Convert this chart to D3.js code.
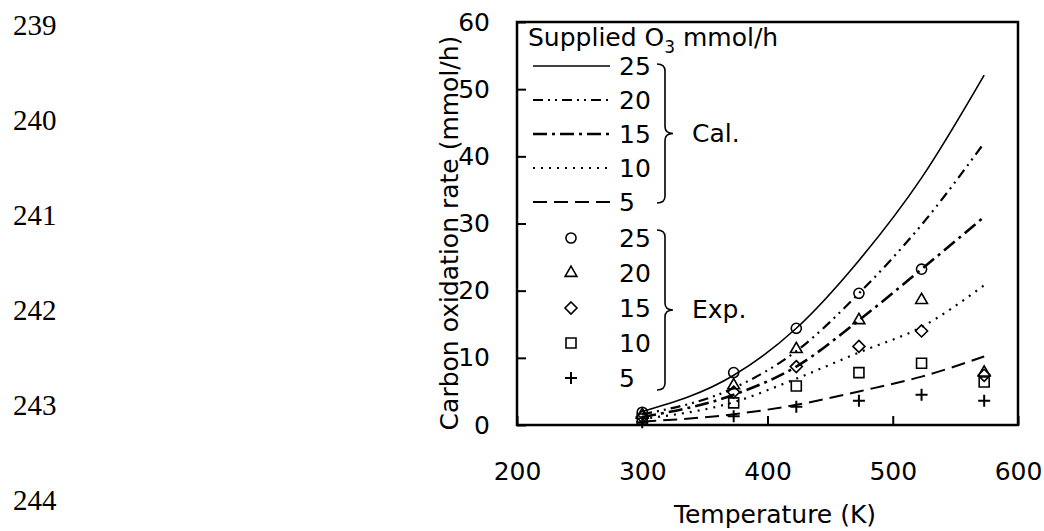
<!DOCTYPE html>
<html>
<head>
<meta charset="utf-8">
<script src="https://cdn.jsdelivr.net/npm/d3@7"></script>
<style>
  body { margin: 0; background: #fff; }
  svg { display: block; }
</style>
</head>
<body>
<div id="chart"></div>
<script>
// Temperatures (K) where the curves and experiments are given
const temps = [300, 373, 423, 473, 523, 573];
const suppliedO3 = [25, 20, 15, 10, 5];

// Calculated carbon oxidation rate (mmol/h)
const calc25 = [2.0, 7.4, 14.4, 24.5, 36.8, 52.1];
const calc20 = [1.6, 5.5, 11.0, 19.6, 29.8, 42.0];
const calc15 = [1.2, 4.5, 8.7, 15.6, 23.2, 31.0];
const calc10 = [0.9, 3.4, 6.9, 10.8, 14.6, 20.8];
const calc5 = [0.5, 1.6, 3.0, 5.0, 7.2, 10.2];

// Experimental carbon oxidation rate (mmol/h)
const exp25 = [1.9, 7.8, 14.4, 19.6, 23.2, null];
const exp20 = [1.5, 5.9, 11.3, 15.6, 18.6, 7.8];
const exp15 = [1.2, 4.9, 8.7, 11.7, 14.0, 7.4];
const exp10 = [0.9, 3.3, 5.8, 7.8, 9.2, 6.4];
const exp5 = [0.4, 1.3, 2.7, 3.6, 4.5, 3.6];

const xTicks = [200, 300, 400, 500, 600];
const yTicks = [0, 10, 20, 30, 40, 50, 60];
const lineNumbers = ['239', '240', '241', '242', '243', '244'];

const width = 1044, height = 531;
const font = "'DejaVu Sans', sans-serif";

const svg = d3.select('#chart').append('svg')
    .attr('width', width)
    .attr('height', height);

// Manuscript line numbers down the left margin
svg.selectAll('text.lineno')
    .data(lineNumbers)
    .enter().append('text')
    .attr('class', 'lineno')
    .attr('x', 13)
    .attr('y', (d, i) => 35 + i * 95)
    .style('font-family', "'Liberation Serif', 'Times New Roman', serif")
    .style('font-size', '29px')
    .text(d => d);

const x = d3.scaleLinear().domain([200, 600]).range([517, 1018]);
const y = d3.scaleLinear().domain([0, 60]).range([425, 22]);

// Axes, ticks pointing inward
const yAxis = d3.axisLeft(y).tickValues(yTicks).tickSizeInner(-9).tickSizeOuter(0).tickPadding(27);
const xAxis = d3.axisBottom(x).tickValues(xTicks).tickSizeInner(-9).tickSizeOuter(0).tickPadding(37);

const gy = svg.append('g').attr('transform', `translate(${x.range()[0]},0)`).call(yAxis);
const gx = svg.append('g').attr('transform', `translate(0,${y.range()[0]})`).call(xAxis);
[gx, gy].forEach(g => {
    g.select('.domain').remove();
    g.selectAll('line').attr('stroke', '#000').attr('stroke-width', 2);
    g.selectAll('text').attr('fill', '#000').style('font-family', font).style('font-size', '25px');
});

// Plot frame
svg.append('rect')
    .attr('x', x(200)).attr('y', y(60))
    .attr('width', x(600) - x(200)).attr('height', y(0) - y(60))
    .attr('fill', 'none').attr('stroke', '#000').attr('stroke-width', 2.5);

// Calculated curves
const calcSeries = [
    {key: 25, values: calc25, dash: null, w: 1.6},
    {key: 20, values: calc20, dash: '10,5,2,5,2,5', w: 2.2},
    {key: 15, values: calc15, dash: '14,5,3,5', w: 2.6},
    {key: 10, values: calc10, dash: '2,6', w: 2.2},
    {key: 5, values: calc5, dash: '14,7', w: 2}
];

const line = d3.line()
    .x((d, i) => x(temps[i]))
    .y(d => y(d))
    .curve(d3.curveMonotoneX);

svg.selectAll('path.calc')
    .data(calcSeries)
    .enter().append('path')
    .attr('class', 'calc')
    .attr('d', d => line(d.values))
    .attr('fill', 'none')
    .attr('stroke', '#000')
    .attr('stroke-width', d => d.w)
    .attr('stroke-dasharray', d => d.dash);

// Experimental markers
const symbolPath = {
    25: d3.symbol().type(d3.symbolCircle).size(80)(),
    20: d3.symbol().type(d3.symbolTriangle).size(60)(),
    15: 'M0,-6L6,0L0,6L-6,0Z',
    10: 'M-5,-5H5V5H-5Z',
    5: 'M-6,0H6M0,-6V6'
};

const expSeries = [
    {key: 25, values: exp25},
    {key: 20, values: exp20},
    {key: 15, values: exp15},
    {key: 10, values: exp10},
    {key: 5, values: exp5}
];

expSeries.forEach(s => {
    svg.selectAll(null)
        .data(s.values.map((v, i) => ({t: temps[i], v: v})).filter(d => d.v != null))
        .enter().append('path')
        .attr('transform', d => `translate(${x(d.t)},${y(d.v)})`)
        .attr('d', symbolPath[s.key])
        .attr('fill', 'none')
        .attr('stroke', '#000')
        .attr('stroke-width', s.key === 5 ? 2 : 1.6);
});

// Legend
const legend = svg.append('g').style('font-family', font).style('font-size', '25px');

const title = legend.append('text').attr('x', 528).attr('y', 46);
title.append('tspan').text('Supplied O');
title.append('tspan').attr('dy', 7).style('font-size', '17px').text('3');
title.append('tspan').attr('dy', -7).text(' mmol/h');

calcSeries.forEach((s, i) => {
    const yy = 66 + i * 34;
    legend.append('line')
        .attr('x1', 533).attr('x2', 610).attr('y1', yy).attr('y2', yy)
        .attr('stroke', '#000').attr('stroke-width', s.w)
        .attr('stroke-dasharray', s.dash);
    legend.append('text').attr('x', 619).attr('y', yy).attr('dy', '0.36em').text(s.key);
});

expSeries.forEach((s, i) => {
    const yy = 238 + i * 35;
    legend.append('path')
        .attr('transform', `translate(571,${yy})`)
        .attr('d', symbolPath[s.key])
        .attr('fill', 'none').attr('stroke', '#000')
        .attr('stroke-width', s.key === 5 ? 2 : 1.6);
    legend.append('text').attr('x', 619).attr('y', yy).attr('dy', '0.36em').text(s.key);
});

function bracePath(x0, y0, y1, w) {
    const xm = x0 + w / 2, ym = (y0 + y1) / 2, r = 7;
    return `M${x0},${y0} Q${xm},${y0} ${xm},${y0 + r} L${xm},${ym - r} Q${xm},${ym} ${x0 + w},${ym}` +
        ` Q${xm},${ym} ${xm},${ym + r} L${xm},${y1 - r} Q${xm},${y1} ${x0},${y1}`;
}

legend.append('path').attr('d', bracePath(657, 64, 203, 16))
    .attr('fill', 'none').attr('stroke', '#000').attr('stroke-width', 1.6);
legend.append('path').attr('d', bracePath(657, 230, 390, 16))
    .attr('fill', 'none').attr('stroke', '#000').attr('stroke-width', 1.6);
legend.append('text').attr('x', 692).attr('y', 133).attr('dy', '0.36em').text('Cal.');
legend.append('text').attr('x', 692).attr('y', 309).attr('dy', '0.36em').text('Exp.');

// Axis titles
svg.append('text')
    .attr('transform', 'translate(458,233) rotate(-90)')
    .attr('text-anchor', 'middle')
    .style('font-family', font)
    .style('font-size', '25px')
    .text('Carbon oxidation rate (mmol/h)');

svg.append('text')
    .attr('x', 775).attr('y', 523)
    .attr('text-anchor', 'middle')
    .style('font-family', font)
    .style('font-size', '25px')
    .text('Temperature (K)');
</script>
</body>
</html>
